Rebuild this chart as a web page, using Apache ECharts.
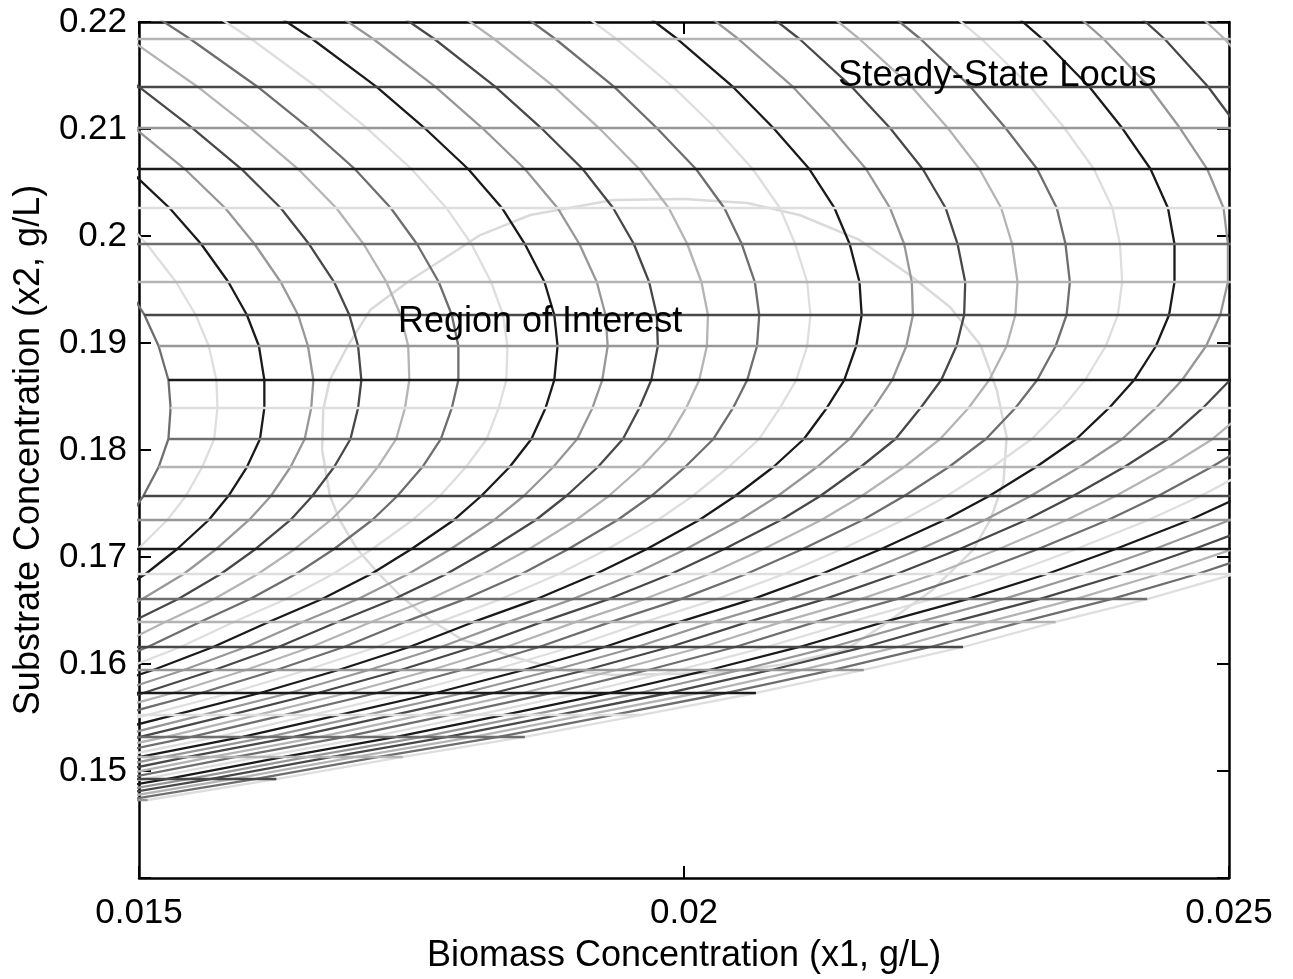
<!DOCTYPE html>
<html><head><meta charset="utf-8">
<script src="https://cdn.jsdelivr.net/npm/echarts@6/dist/echarts.min.js"></script>
<style>html,body{margin:0;padding:0;background:#fff}#c{width:1293px;height:979px}</style>
</head><body><div id="c"></div>
<script>
// ---- data ----
// substrate concentration (x2) of each steady-state level (horizontal mesh lines), top to bottom
const x2Levels = [0.22318, 0.21841, 0.21393, 0.21009, 0.20626, 0.20262, 0.19925, 0.19570, 0.19262, 0.18972,
  0.18654, 0.18393, 0.18103, 0.17841, 0.17570, 0.17346, 0.17075, 0.16841, 0.16607, 0.16393,
  0.16159, 0.15944, 0.15729, 0.15523, 0.15318, 0.15131, 0.14925, 0.14729];
// biomass concentration (x1) where each locus curve (columns 0..31) crosses each level (rows)
const x1AtLevel = [
 [0.01132,0.01189,0.01246,0.01303,0.01360,0.01418,0.01475,0.01532,0.01589,0.01646,0.01703,0.01760,0.01818,0.01875,0.01932,0.01989,0.02046,0.02103,0.02160,0.02217,0.02275,0.02332,0.02389,0.02446,0.02503,0.02560,0.02617,0.02675,0.02732,0.02789,0.02846,0.02903],
 [0.01212,0.01268,0.01324,0.01380,0.01436,0.01491,0.01547,0.01603,0.01659,0.01715,0.01771,0.01826,0.01882,0.01938,0.01994,0.02050,0.02106,0.02161,0.02217,0.02273,0.02329,0.02385,0.02441,0.02496,0.02552,0.02608,0.02664,0.02720,0.02775,0.02831,0.02887,0.02943],
 [0.01282,0.01336,0.01391,0.01445,0.01500,0.01554,0.01609,0.01663,0.01718,0.01772,0.01827,0.01881,0.01936,0.01990,0.02045,0.02100,0.02154,0.02209,0.02263,0.02318,0.02372,0.02427,0.02481,0.02536,0.02590,0.02645,0.02699,0.02754,0.02808,0.02863,0.02917,0.02972],
 [0.01336,0.01389,0.01442,0.01496,0.01549,0.01602,0.01656,0.01709,0.01762,0.01815,0.01869,0.01922,0.01975,0.02029,0.02082,0.02135,0.02189,0.02242,0.02295,0.02349,0.02402,0.02455,0.02509,0.02562,0.02615,0.02669,0.02722,0.02775,0.02829,0.02882,0.02935,0.02989],
 [0.01385,0.01437,0.01490,0.01542,0.01594,0.01646,0.01698,0.01750,0.01802,0.01854,0.01907,0.01959,0.02011,0.02063,0.02115,0.02167,0.02219,0.02271,0.02324,0.02376,0.02428,0.02480,0.02532,0.02584,0.02636,0.02688,0.02741,0.02793,0.02845,0.02897,0.02949,0.03001],
 [0.01426,0.01477,0.01528,0.01579,0.01630,0.01681,0.01731,0.01782,0.01833,0.01884,0.01935,0.01986,0.02037,0.02088,0.02138,0.02189,0.02240,0.02291,0.02342,0.02393,0.02444,0.02495,0.02545,0.02596,0.02647,0.02698,0.02749,0.02800,0.02851,0.02902,0.02952,0.03003],
 [0.01458,0.01507,0.01557,0.01606,0.01656,0.01706,0.01755,0.01805,0.01854,0.01904,0.01954,0.02003,0.02053,0.02102,0.02152,0.02202,0.02251,0.02301,0.02350,0.02400,0.02450,0.02499,0.02549,0.02599,0.02648,0.02698,0.02747,0.02797,0.02847,0.02896,0.02946,0.02995],
 [0.01486,0.01534,0.01582,0.01630,0.01679,0.01727,0.01775,0.01823,0.01872,0.01920,0.01968,0.02016,0.02065,0.02113,0.02161,0.02209,0.02258,0.02306,0.02354,0.02402,0.02450,0.02499,0.02547,0.02595,0.02643,0.02692,0.02740,0.02788,0.02836,0.02885,0.02933,0.02981],
 [0.01505,0.01552,0.01599,0.01646,0.01693,0.01740,0.01787,0.01834,0.01881,0.01928,0.01975,0.02022,0.02069,0.02116,0.02163,0.02210,0.02257,0.02304,0.02351,0.02398,0.02445,0.02492,0.02539,0.02586,0.02633,0.02680,0.02727,0.02774,0.02821,0.02868,0.02914,0.02961],
 [0.01518,0.01564,0.01610,0.01655,0.01701,0.01747,0.01793,0.01838,0.01884,0.01930,0.01976,0.02021,0.02067,0.02113,0.02158,0.02204,0.02250,0.02296,0.02341,0.02387,0.02433,0.02479,0.02524,0.02570,0.02616,0.02662,0.02707,0.02753,0.02799,0.02845,0.02890,0.02936],
 [0.01527,0.01571,0.01615,0.01660,0.01704,0.01748,0.01793,0.01837,0.01881,0.01925,0.01970,0.02014,0.02058,0.02103,0.02147,0.02191,0.02236,0.02280,0.02324,0.02368,0.02413,0.02457,0.02501,0.02546,0.02590,0.02634,0.02679,0.02723,0.02767,0.02811,0.02856,0.02900],
 [0.01529,0.01572,0.01615,0.01658,0.01701,0.01744,0.01787,0.01830,0.01873,0.01916,0.01959,0.02002,0.02045,0.02088,0.02131,0.02174,0.02217,0.02261,0.02304,0.02347,0.02390,0.02433,0.02476,0.02519,0.02562,0.02605,0.02648,0.02691,0.02734,0.02777,0.02820,0.02863],
 [0.01527,0.01569,0.01611,0.01652,0.01694,0.01736,0.01777,0.01819,0.01860,0.01902,0.01944,0.01985,0.02027,0.02069,0.02110,0.02152,0.02194,0.02235,0.02277,0.02319,0.02360,0.02402,0.02444,0.02485,0.02527,0.02569,0.02610,0.02652,0.02693,0.02735,0.02777,0.02818],
 [0.01518,0.01558,0.01599,0.01639,0.01679,0.01719,0.01760,0.01800,0.01840,0.01880,0.01921,0.01961,0.02001,0.02041,0.02082,0.02122,0.02162,0.02202,0.02243,0.02283,0.02323,0.02363,0.02404,0.02444,0.02484,0.02524,0.02565,0.02605,0.02645,0.02685,0.02726,0.02766],
 [0.01504,0.01543,0.01582,0.01621,0.01659,0.01698,0.01737,0.01776,0.01814,0.01853,0.01892,0.01931,0.01970,0.02008,0.02047,0.02086,0.02125,0.02163,0.02202,0.02241,0.02280,0.02318,0.02357,0.02396,0.02435,0.02474,0.02512,0.02551,0.02590,0.02629,0.02667,0.02706],
 [0.01489,0.01526,0.01564,0.01601,0.01639,0.01676,0.01714,0.01751,0.01789,0.01826,0.01864,0.01901,0.01939,0.01976,0.02014,0.02051,0.02089,0.02126,0.02164,0.02201,0.02239,0.02276,0.02314,0.02351,0.02389,0.02426,0.02464,0.02501,0.02539,0.02576,0.02614,0.02651],
 [0.01463,0.01499,0.01535,0.01571,0.01607,0.01643,0.01679,0.01714,0.01750,0.01786,0.01822,0.01858,0.01894,0.01930,0.01966,0.02002,0.02037,0.02073,0.02109,0.02145,0.02181,0.02217,0.02253,0.02289,0.02325,0.02360,0.02396,0.02432,0.02468,0.02504,0.02540,0.02576],
 [0.01437,0.01472,0.01506,0.01541,0.01575,0.01609,0.01644,0.01678,0.01713,0.01747,0.01782,0.01816,0.01851,0.01885,0.01919,0.01954,0.01988,0.02023,0.02057,0.02092,0.02126,0.02161,0.02195,0.02230,0.02264,0.02298,0.02333,0.02367,0.02402,0.02436,0.02471,0.02505],
 [0.01404,0.01437,0.01470,0.01503,0.01536,0.01569,0.01602,0.01635,0.01668,0.01701,0.01734,0.01767,0.01799,0.01832,0.01865,0.01898,0.01931,0.01964,0.01997,0.02030,0.02063,0.02096,0.02129,0.02162,0.02195,0.02227,0.02260,0.02293,0.02326,0.02359,0.02392,0.02425],
 [0.01367,0.01399,0.01430,0.01462,0.01493,0.01524,0.01556,0.01587,0.01619,0.01650,0.01682,0.01713,0.01744,0.01776,0.01807,0.01839,0.01870,0.01901,0.01933,0.01964,0.01996,0.02027,0.02059,0.02090,0.02121,0.02153,0.02184,0.02216,0.02247,0.02279,0.02310,0.02341],
 [0.01329,0.01359,0.01389,0.01419,0.01449,0.01478,0.01508,0.01538,0.01568,0.01598,0.01628,0.01658,0.01688,0.01718,0.01748,0.01777,0.01807,0.01837,0.01867,0.01897,0.01927,0.01957,0.01987,0.02017,0.02047,0.02076,0.02106,0.02136,0.02166,0.02196,0.02226,0.02256],
 [0.01286,0.01314,0.01342,0.01371,0.01399,0.01427,0.01456,0.01484,0.01513,0.01541,0.01569,0.01598,0.01626,0.01654,0.01683,0.01711,0.01740,0.01768,0.01796,0.01825,0.01853,0.01881,0.01910,0.01938,0.01967,0.01995,0.02023,0.02052,0.02080,0.02108,0.02137,0.02165],
 [0.01236,0.01263,0.01290,0.01316,0.01343,0.01370,0.01397,0.01423,0.01450,0.01477,0.01504,0.01531,0.01557,0.01584,0.01611,0.01638,0.01664,0.01691,0.01718,0.01745,0.01772,0.01798,0.01825,0.01852,0.01879,0.01905,0.01932,0.01959,0.01986,0.02013,0.02039,0.02066],
 [0.01181,0.01206,0.01231,0.01256,0.01281,0.01306,0.01331,0.01357,0.01382,0.01407,0.01432,0.01457,0.01482,0.01507,0.01532,0.01558,0.01583,0.01608,0.01633,0.01658,0.01683,0.01708,0.01733,0.01759,0.01784,0.01809,0.01834,0.01859,0.01884,0.01909,0.01934,0.01960],
 [0.01125,0.01148,0.01172,0.01195,0.01219,0.01242,0.01266,0.01289,0.01313,0.01336,0.01360,0.01383,0.01407,0.01431,0.01454,0.01478,0.01501,0.01525,0.01548,0.01572,0.01595,0.01619,0.01642,0.01666,0.01689,0.01713,0.01736,0.01760,0.01783,0.01807,0.01830,0.01854],
 [0.01063,0.01085,0.01107,0.01129,0.01151,0.01173,0.01195,0.01217,0.01239,0.01261,0.01282,0.01304,0.01326,0.01348,0.01370,0.01392,0.01414,0.01436,0.01458,0.01480,0.01501,0.01523,0.01545,0.01567,0.01589,0.01611,0.01633,0.01655,0.01677,0.01699,0.01720,0.01742],
 [0.00999,0.01019,0.01039,0.01059,0.01080,0.01100,0.01120,0.01140,0.01161,0.01181,0.01201,0.01221,0.01241,0.01262,0.01282,0.01302,0.01322,0.01343,0.01363,0.01383,0.01403,0.01423,0.01444,0.01464,0.01484,0.01504,0.01525,0.01545,0.01565,0.01585,0.01606,0.01626],
 [0.00932,0.00950,0.00969,0.00988,0.01006,0.01025,0.01043,0.01062,0.01080,0.01099,0.01118,0.01136,0.01155,0.01173,0.01192,0.01210,0.01229,0.01248,0.01266,0.01285,0.01303,0.01322,0.01341,0.01359,0.01378,0.01396,0.01415,0.01433,0.01452,0.01471,0.01489,0.01508]
];
// "Region of Interest" boundary
const regionX1 = [0.01935,0.02000,0.02058,0.02106,0.02161,0.02207,0.02244,0.02272,0.02287,0.02296,0.02293,0.02281,0.02265,0.02228,0.02183,0.02148,0.02088,0.02027,0.01935,0.01889,0.01843,0.01813,0.01797,0.01767,0.01739,0.01721,0.01700,0.01684,0.01675,0.01668,0.01669,0.01675,0.01691,0.01712,0.01749,0.01792,0.01813,0.01859,0.01935];
const regionX2 = [0.20336,0.20346,0.20308,0.20196,0.19963,0.19636,0.19336,0.18981,0.18561,0.18121,0.17692,0.17346,0.17065,0.16692,0.16364,0.16131,0.15991,0.15916,0.15897,0.15944,0.16065,0.16178,0.16225,0.16411,0.16645,0.16832,0.17075,0.17346,0.17579,0.18000,0.18374,0.18654,0.18963,0.19308,0.19589,0.19869,0.20009,0.20196,0.20336];
// tick labels
const xTickValues = [0.015, 0.02, 0.025];
const xTickLabels = ['0.015', '0.02', '0.025'];
const yTickValues = [0.15, 0.16, 0.17, 0.18, 0.19, 0.20, 0.21, 0.22];
const yTickLabels = ['0.15', '0.16', '0.17', '0.18', '0.19', '0.2', '0.21', '0.22'];
// texts
const xTitle = 'Biomass Concentration (x1, g/L)';
const yTitle = 'Substrate Concentration (x2, g/L)';
const noteLocus = 'Steady-State Locus';
const noteRegion = 'Region of Interest';

// ---- styles ----
const G = {K:'#1a1a1a', D:'#484848', D2:'#6e6e6e', M:'#979797', L:'#b4b4b4', VL:'#dedede'};
const curveColors = [G.D2, G.VL, G.K, G.M, G.D, G.L];
const levelColors = [G.D2, G.L, G.D, G.M, G.K, G.VL];
const FONT = '"Liberation Sans", Arial, Helvetica, sans-serif';

function lookup(vals, labels, v) {
  for (let i = 0; i < vals.length; i++) if (Math.abs(vals[i] - v) < 1e-9) return labels[i];
  return '';
}

const nCurves = x1AtLevel[0].length;
const series = [];
series.push({
  type: 'line', symbol: 'none', silent: true, z: 2,
  data: regionX1.map((x, i) => [x, regionX2[i]]),
  lineStyle: {color: '#dadada', width: 2.5}
});
for (let j = 0; j < nCurves; j++) {
  series.push({
    type: 'line', symbol: 'none', silent: true, z: 3,
    data: x2Levels.map((y, i) => [x1AtLevel[i][j], y]),
    lineStyle: {color: curveColors[j % 6], width: 2.3}
  });
}
for (let i = 0; i < x2Levels.length; i++) {
  series.push({
    type: 'line', symbol: 'none', silent: true, z: 4,
    data: [[x1AtLevel[i][0], x2Levels[i]], [x1AtLevel[i][nCurves - 1], x2Levels[i]]],
    lineStyle: {color: levelColors[i % 6], width: 2.5}
  });
}

const axisLine = {onZero: false, lineStyle: {color: '#000', width: 2.5}};
const axisTick = {inside: true, length: 12, lineStyle: {color: '#000', width: 2}};

const chart = echarts.init(document.getElementById('c'), null, {renderer: 'canvas'});
chart.setOption({
  animation: false,
  backgroundColor: '#fff',
  grid: {left: 139, top: 22, width: 1090, height: 856, show: false},
  xAxis: [{
    type: 'value', min: 0.015, max: 0.025, interval: 0.005, position: 'bottom',
    axisLine, axisTick, splitLine: {show: false},
    axisLabel: {color: '#000', fontSize: 35, fontFamily: FONT, margin: 18,
      formatter: v => lookup(xTickValues, xTickLabels, v)},
    name: xTitle, nameLocation: 'middle', nameGap: 60,
    nameTextStyle: {color: '#000', fontSize: 36, fontFamily: FONT}
  }, {
    type: 'value', min: 0.015, max: 0.025, interval: 0.005, position: 'top',
    axisLine, axisTick, splitLine: {show: false}, axisLabel: {show: false}
  }],
  yAxis: [{
    type: 'value', min: 0.14, max: 0.22, interval: 0.01, position: 'left',
    axisLine, axisTick, splitLine: {show: false},
    axisLabel: {color: '#000', fontSize: 35, fontFamily: FONT, margin: 12,
      formatter: v => lookup(yTickValues, yTickLabels, v)},
    name: yTitle, nameLocation: 'middle', nameGap: 92,
    nameTextStyle: {color: '#000', fontSize: 36, fontFamily: FONT}
  }, {
    type: 'value', min: 0.14, max: 0.22, interval: 0.01, position: 'right',
    axisLine, axisTick, splitLine: {show: false}, axisLabel: {show: false}
  }],
  series,
  graphic: [
    {type: 'text', left: 838, top: 57, z: 100, silent: true,
     style: {text: noteLocus, fill: '#000', font: '36.5px ' + FONT}},
    {type: 'text', left: 398, top: 304, z: 100, silent: true,
     style: {text: noteRegion, fill: '#000', font: '36px ' + FONT}}
  ]
});
</script>
</body></html>
